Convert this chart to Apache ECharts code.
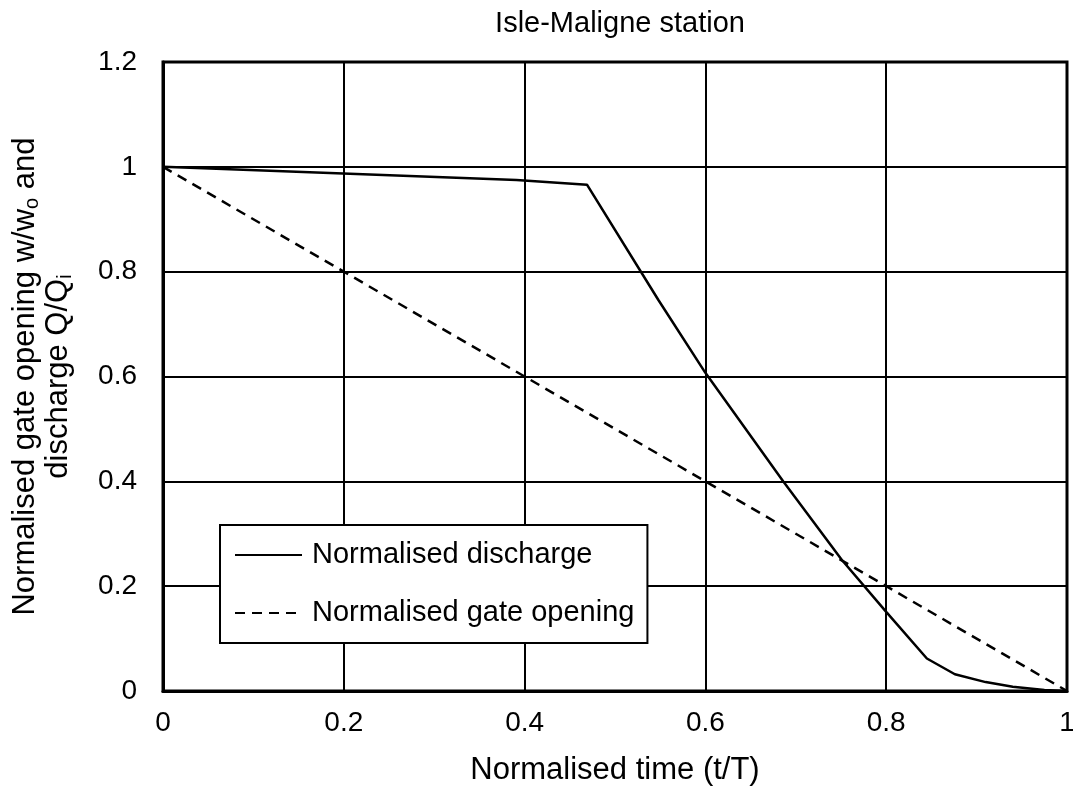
<!DOCTYPE html>
<html>
<head>
<meta charset="utf-8">
<script src="https://cdn.jsdelivr.net/npm/echarts@6/dist/echarts.min.js"></script>
<style>
html,body{margin:0;padding:0;background:#fff;}
#chart{width:1073px;height:788px;}
</style>
</head>
<body>
<div id="chart"></div>
<script>
const titleText = 'Isle-Maligne station';
const xTicks = [0, 0.2, 0.4, 0.6, 0.8, 1];
const yTicks = [0, 0.2, 0.4, 0.6, 0.8, 1, 1.2];
const dischargeT = [0, 0.391, 0.469, 0.548, 0.6, 0.686, 0.751, 0.8, 0.845, 0.876, 0.91, 0.94, 0.975, 1];
const dischargeQ = [1, 0.975, 0.966, 0.746, 0.607, 0.4, 0.25, 0.151, 0.062, 0.032, 0.017, 0.008, 0.002, 0];
const gateT = [0, 0.2, 0.4, 0.6, 0.8, 1];
const gateW = [1, 0.8, 0.6, 0.4, 0.2, 0];
const seriesNames = ['Normalised discharge', 'Normalised gate opening'];

const FONT = "'Liberation Sans', Arial, sans-serif";
const FS = 28;
const NFS = 31;

const chart = echarts.init(document.getElementById('chart'), null, {renderer: 'canvas'});
const zip = (a, b) => a.map((v, i) => [v, b[i]]);

chart.setOption({
  backgroundColor: '#ffffff',
  animation: false,
  title: {
    text: titleText,
    left: 615, top: 4, textAlign: 'center',
    textStyle: {fontFamily: FONT, fontSize: 29, fontWeight: 'normal', color: '#000'}
  },
  grid: {
    left: 163, right: 6, top: 62, bottom: 97,
    containLabel: false, outerBoundsMode: 'none',
    show: true, borderColor: '#000', borderWidth: 3, backgroundColor: 'transparent'
  },
  legend: {
    orient: 'vertical',
    left: 220, top: 525,
    padding: [15, 13, 15, 14],
    itemGap: 28,
    itemWidth: 67, itemHeight: 14,
    backgroundColor: '#fff',
    borderColor: '#000', borderWidth: 2, borderRadius: 0,
    itemStyle: {opacity: 0},
    textStyle: {fontFamily: FONT, fontSize: 29, color: '#000', lineHeight: 30, padding: [0, 0, 0, 5]},
    data: seriesNames
  },
  xAxis: {
    type: 'value', min: 0, max: 1, interval: 0.2,
    name: 'Normalised time (t/T)', nameLocation: 'middle', nameGap: 64,
    nameTextStyle: {fontFamily: FONT, fontSize: NFS, color: '#000'},
    axisLine: {show: true, lineStyle: {color: '#000', width: 3}},
    axisTick: {show: false},
    axisLabel: {fontFamily: FONT, fontSize: FS, color: '#000', margin: 18,
      formatter: v => String(xTicks.find(t => Math.abs(t - v) < 1e-9) ?? v)},
    splitLine: {show: true, lineStyle: {color: '#000', width: 2}}
  },
  yAxis: {
    type: 'value', min: 0, max: 1.2, interval: 0.2,
    name: '{m|Normalised gate opening w/w}{s|o}{m| and}\n{m|discharge Q/Q}{s|i}',
    nameLocation: 'middle', nameGap: 88,
    nameTextStyle: {
      fontFamily: FONT, fontSize: NFS, color: '#000', lineHeight: 33,
      rich: {
        m: {fontFamily: FONT, fontSize: NFS, color: '#000', lineHeight: 33},
        s: {fontFamily: FONT, fontSize: 20, color: '#000', lineHeight: 33, verticalAlign: 'bottom'}
      }
    },
    axisLine: {show: true, lineStyle: {color: '#000', width: 3}},
    axisTick: {show: false},
    axisLabel: {fontFamily: FONT, fontSize: FS, color: '#000', margin: 26,
      formatter: v => String(yTicks.find(t => Math.abs(t - v) < 1e-9) ?? v)},
    splitLine: {show: true, lineStyle: {color: '#000', width: 2}}
  },
  series: [
    {
      name: seriesNames[0], type: 'line', symbol: 'none', z: 5,
      lineStyle: {color: '#000', width: 2.5, type: 'solid'},
      itemStyle: {color: '#000'},
      data: zip(dischargeT, dischargeQ)
    },
    {
      name: seriesNames[1], type: 'line', symbol: 'none', z: 4,
      lineStyle: {color: '#000', width: 2.5, type: [10, 7]},
      itemStyle: {color: '#000'},
      data: zip(gateT, gateW)
    }
  ]
});
</script>
</body>
</html>
